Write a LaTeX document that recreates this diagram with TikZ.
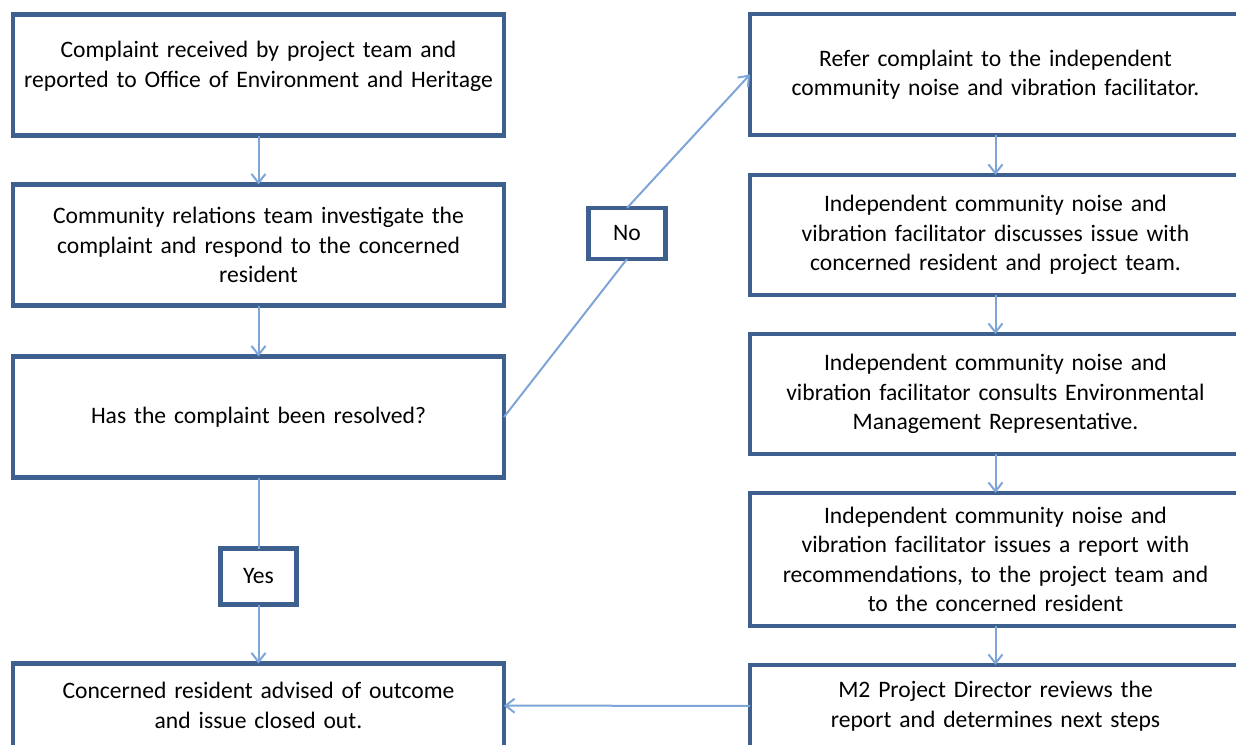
\documentclass[tikz,border=0pt]{standalone}
\usepackage{fontspec}
\setmainfont{Carlito}
\usetikzlibrary{positioning,arrows.meta}
\definecolor{boxblue}{HTML}{3D608E}
\definecolor{arrblue}{HTML}{7EA5D8}
\tikzset{
  pb/.style={rectangle, minimum width=245.5pt, minimum height=60.5pt, text width=240pt, inner xsep=2pt, outer sep=0pt, align=center, draw=boxblue, line width=2.2pt, font=\fontsize{11.8}{14.75}\selectfont},
  yn/.style={rectangle, minimum width=38pt, minimum height=26pt, inner sep=2pt, outer sep=0pt, draw=boxblue, line width=2.2pt, fill=white, font=\fontsize{11.8}{14.75}\selectfont},
  ar/.style={draw=arrblue, line width=1pt},
  >={Straight Barb[length=4.5pt,width=7pt]}
}

\begin{document}
\begin{tikzpicture}[x=0.5pt,y=-0.5pt]
	\useasboundingbox (0,0) rectangle (1236,744);
	\node[pb] (rec) at (258.5,75) {Complaint received by project team and\\reported to Office of Environment and Heritage\\[-4pt]\mbox{}};
	\node[pb, below=24.5pt of rec] (inv) {Community relations team investigate the\\complaint and respond to the concerned\\resident};
	\node[pb, below=25.5pt of inv] (res) {Has the complaint been resolved?};
	\node[yn, minimum height=28pt, below=35.5pt of res] (yes) {Yes};
	\node[pb, minimum height=42pt, below=93pt of res] (close) {Concerned resident advised of outcome\\and issue closed out.};
	%
	\node[pb] (ref) at (995.5,74.5) {Refer complaint to the independent\\community noise and vibration facilitator.};
	\node[pb, minimum height=60pt, below=20pt of ref] (disc) {Independent community noise and\\vibration facilitator discusses issue with\\concerned resident and project team.};
	\node[pb, minimum height=60pt, below=19.5pt of disc] (cons) {Independent community noise and\\vibration facilitator consults Environmental\\Management Representative.};
	\node[pb, minimum height=66.5pt, below=19.5pt of cons] (rep) {Independent community noise and\\vibration facilitator issues a report with\\recommendations, to the project team and\\to the concerned resident};
	\node[pb, minimum height=41pt, below=19.5pt of rep] (dir) {M2 Project Director reviews the\\report and determines next steps};
	\node[yn, minimum width=38.5pt, minimum height=25.5pt] (no) at (627,233.5) {No};
	%
	\draw[ar,->] (rec) -- (inv);
	\draw[ar,->] (inv) -- (res);
	\draw[ar] (res) -- (yes);
	\draw[ar,->] (yes) -- (close);
	\draw[ar] (res.east) -- (no.south);
	\draw[ar,->] (no.north) -- (ref.west);
	\draw[ar,->] (ref) -- (disc);
	\draw[ar,->] (disc) -- (cons);
	\draw[ar,->] (cons) -- (rep);
	\draw[ar,->] (rep) -- (dir);
	\draw[ar,->] (dir) -- (close);
\end{tikzpicture}
\end{document}
